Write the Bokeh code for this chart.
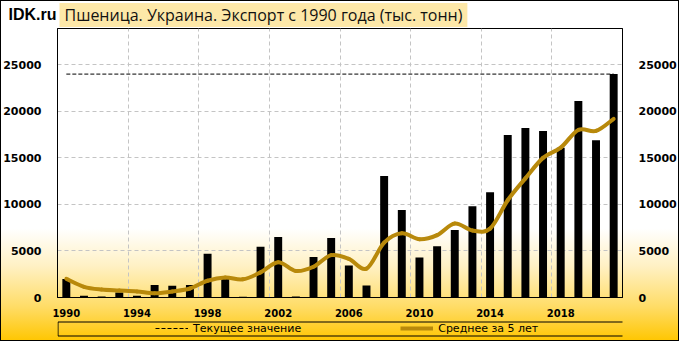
from bokeh.plotting import figure
from bokeh.layouts import column
from bokeh.models import (Range1d, LinearAxis, FixedTicker, Label, Legend, LegendItem,
                          BoxAnnotation)
from bokeh.embed import file_html
from bokeh.resources import INLINE

years = list(range(1990, 2022))
exports = [2000, 200, 100, 550, 200, 1350, 1250, 1350, 4700, 2000, 80, 5450,
           6500, 100, 4350, 6400, 3450, 1300, 13050, 9400, 4300, 5500, 7250, 9800,
           11300, 17450, 18200, 17900, 16100, 21100, 16900, 24000]
avg5 = [2000, 1150, 850, 750, 650, 450, 650, 970, 1800, 2150, 1950, 2700,
        3800, 2850, 3300, 4550, 4150, 3100, 5900, 6900, 6250, 6700, 7950, 7200,
        7400, 10450, 12800, 15000, 16100, 18000, 17900, 19200]
x_tick_years = [1990, 1994, 1998, 2002, 2006, 2010, 2014, 2018]
y_ticks = [0, 5000, 10000, 15000, 20000, 25000]
brand = "IDK.ru"
title_text = "Пшеница. Украина. Экспорт с 1990 года (тыс. тонн)"
legend_current = "Текущее значение"
legend_avg = "Среднее за 5 лет"

GOLD = "#B8890B"
TICK_FONT = "DejaVu Sans"
W = 679
BL, BR = 55, 57   # left / right borders shared by all three figures


def bare(fig):
    fig.background_fill_color = None
    fig.border_fill_color = None
    fig.outline_line_color = None
    fig.min_border_left = BL
    fig.min_border_right = BR
    fig.min_border_top = 0
    fig.min_border_bottom = 0
    fig.grid.visible = False
    return fig


# ---------- header (brand + title) ----------
HH = 27
header = bare(figure(width=W, height=HH, output_backend="svg", toolbar_location=None,
                     x_axis_type=None, y_axis_type=None,
                     x_range=Range1d(0, 1), y_range=Range1d(0, 1)))
header.add_layout(LinearAxis(ticker=FixedTicker(ticks=[]), axis_label=brand,
                             axis_label_orientation="horizontal",
                             axis_label_standoff=1,
                             axis_label_text_font="Liberation Sans",
                             axis_label_text_font_style="bold",
                             axis_label_text_font_size="16px",
                             axis_label_text_color="black",
                             axis_line_color=None, major_tick_line_color=None,
                             minor_tick_line_color=None, major_tick_out=0,
                             major_label_standoff=0), "left")
header.add_layout(Label(x=2, y=HH - 14.5, x_units="screen", y_units="screen",
                        text=title_text, text_font="Open Sans", text_font_size="16px",
                        text_color="#111111", text_baseline="middle",
                        background_fill_color="#FDE8A8",
                        padding=dict(left=5, right=5, top=1, bottom=1)))

# ---------- main chart ----------
MH = 292
p = figure(width=W, height=MH, output_backend="svg", toolbar_location=None,
           x_range=Range1d(years[0] - 0.5, years[-1] + 0.5),
           y_range=Range1d(0, 28900),
           min_border_left=BL, min_border_right=BR,
           min_border_top=1, min_border_bottom=22)
p.background_fill_color = None
p.border_fill_color = None
p.outline_line_color = "black"
p.outline_line_width = 1

p.ygrid.ticker = FixedTicker(ticks=y_ticks[1:])
p.xgrid.ticker = FixedTicker(ticks=[y - 0.5 for y in x_tick_years[1:]])
for g in (p.xgrid, p.ygrid):
    g.grid_line_color = "#C4C4C4"
    g.grid_line_dash = "4 3"
    g.grid_line_width = 1

p.xaxis.ticker = FixedTicker(ticks=x_tick_years)
p.yaxis.ticker = FixedTicker(ticks=y_ticks)
p.add_layout(LinearAxis(ticker=FixedTicker(ticks=y_ticks)), "right")
for ax in p.xaxis + p.yaxis:
    ax.axis_line_color = "black"
    ax.major_tick_line_color = None
    ax.minor_tick_line_color = None
    ax.major_label_text_font = TICK_FONT
    ax.major_label_text_font_style = "bold"
    ax.major_label_text_color = "black"
for ax in p.yaxis:
    ax.major_label_text_font_size = "11px"
    ax.major_label_standoff = 10
p.xaxis.major_label_text_font_size = "10px"
p.xaxis.major_label_standoff = 5

p.vbar(x=years, top=exports, width=0.45, fill_color="black", line_color=None)

p.line(x=[years[0], years[-1]], y=[exports[-1], exports[-1]],
       line_color="black", line_width=1, line_dash="4 2")

n = len(years)
x0, y0, x1, y1, cx0, cy0, cx1, cy1 = [], [], [], [], [], [], [], []
for i in range(n - 1):
    ip = max(i - 1, 0)
    inn = min(i + 2, n - 1)
    x0.append(years[i]); y0.append(avg5[i])
    x1.append(years[i + 1]); y1.append(avg5[i + 1])
    cx0.append(years[i] + (years[i + 1] - years[ip]) / 6)
    cy0.append(avg5[i] + (avg5[i + 1] - avg5[ip]) / 6)
    cx1.append(years[i + 1] - (years[inn] - years[i]) / 6)
    cy1.append(avg5[i + 1] - (avg5[inn] - avg5[i]) / 6)
p.bezier(x0=x0, y0=y0, x1=x1, y1=y1, cx0=cx0, cy0=cy0, cx1=cx1, cy1=cy1,
         line_color=GOLD, line_width=4, line_cap="round")

# ---------- legend strip ----------
# the legend strip reuses the series, but its ranges keep them out of view,
# so only the legend glyphs are drawn
LH = 341 - HH - MH
lf = bare(figure(width=W, height=LH, output_backend="svg", toolbar_location=None,
                 x_axis_type=None, y_axis_type=None,
                 x_range=Range1d(0, 1), y_range=Range1d(0, 1)))
r_cur_leg = lf.line(x=[years[0], years[-1]], y=[exports[-1], exports[-1]],
                    line_color="black", line_width=1, line_dash="4 2")
r_avg_leg = lf.line(x=years, y=avg5, line_color=GOLD, line_width=4)
lf.add_layout(BoxAnnotation(left=0.5, right=566.5, top=LH - 2.5, bottom=LH - 16.5,
                            left_units="screen", right_units="screen",
                            top_units="screen", bottom_units="screen",
                            fill_alpha=0, line_color="black", line_width=1,
                            line_alpha=1))
legend = Legend(items=[LegendItem(label=legend_current, renderers=[r_cur_leg]),
                       LegendItem(label=legend_avg, renderers=[r_avg_leg])],
                orientation="horizontal", location=(98, LH - 16),
                padding=0, margin=0, spacing=99,
                glyph_width=33, glyph_height=14, label_height=14, label_standoff=5,
                border_line_color=None, background_fill_alpha=0,
                label_text_font=TICK_FONT, label_text_font_size="11px",
                label_text_color="black")
lf.add_layout(legend)

layout = column(header, p, lf, spacing=0, styles={
    "background-image": "linear-gradient(to bottom, #ffffff 0%, #ffffff 67%, #fff1c4 78%, #ffdc66 90%, #ffc600 100%)",
    "box-shadow": "inset 0 0 0 1px #000000",
})

open("out.html", "w").write(file_html(layout, INLINE))
